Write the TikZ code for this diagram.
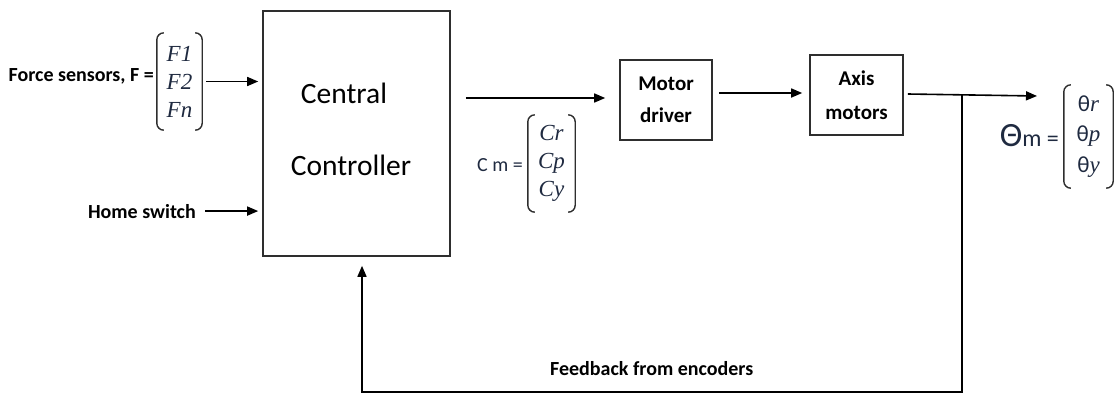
\documentclass[tikz,border=0pt]{standalone}
\usepackage{fontspec}
\usetikzlibrary{arrows.meta}
\setmainfont{Carlito}
\newfontfamily\entryfont{Liberation Serif}
\definecolor{InkNavy}{HTML}{1F2A40}
\definecolor{BoxGray}{HTML}{2E2E2E}

\tikzset{
    block/.style={draw=BoxGray, line width=1.6pt},
    flow/.style={-{Triangle[length=11pt,width=9pt]}, line width=1.6pt},
    lbl/.style={font=\bfseries\fontsize{20}{22}\selectfont},
    vec/.style={font=\fontsize{23}{28}\selectfont, text=InkNavy, align=center, inner sep=0pt},
    bracket/.style={draw=BoxGray, line width=1.4pt, rounded corners=7pt}
}

\begin{document}
\begin{tikzpicture}[x=1pt, y=-1pt]
    \useasboundingbox (0,0) rectangle (1115,394);

    % blocks
    \node[block, minimum width=187pt, minimum height=245pt] (ctrl) at (356.5,133.5) {};
    \node[font=\fontsize{29.5}{29}\selectfont, anchor=base] (central) at (344,103) {Central};
    \node[font=\fontsize{29.5}{29}\selectfont, anchor=base] (controller) at (351,175) {Controller};
    \node[block, minimum width=92pt, minimum height=80pt, align=center,
          font=\bfseries\fontsize{21}{32}\selectfont] (driver) at (666,100) {Motor\\driver};
    \node[block, minimum width=93pt, minimum height=80pt, align=center,
          font=\bfseries\fontsize{21}{34}\selectfont] (axis) at (856.5,95) {Axis\\motors};

    % vectors
    \node[vec, minimum width=45pt, minimum height=97pt] (fvec) at (179.5,81.5)
        {\entryfont\itshape F1\\\entryfont\itshape F2\\\entryfont\itshape Fn};
    \node[vec, minimum width=47pt, minimum height=97pt] (cvec) at (551.5,163.5)
        {\entryfont\itshape Cr\\\entryfont\itshape Cp\\\entryfont\itshape Cy};
    \node[vec, minimum width=49pt, minimum height=103pt, font=\fontsize{23}{30.5}\selectfont] (tvec) at (1088.5,136.5)
        {θ{\entryfont\itshape r}\\θ{\entryfont\itshape p}\\θ{\entryfont\itshape y}};
    \foreach \v in {fvec,cvec,tvec} {
        \draw[bracket] ([xshift=7pt]\v.north west) -- (\v.north west) -- (\v.south west) -- ([xshift=7pt]\v.south west);
        \draw[bracket] ([xshift=-7pt]\v.north east) -- (\v.north east) -- (\v.south east) -- ([xshift=-7pt]\v.south east);
    }

    % labels
    \node[lbl, anchor=base east, inner sep=0pt] (force) at (154,81) {Force sensors, F =};
    \node[lbl, anchor=base east, inner sep=0pt] (home) at (196,218) {Home switch};
    \node[anchor=east, inner sep=0pt, text=InkNavy, font=\fontsize{20}{22}\selectfont] (cm) at (523,165) {C m =};
    \node[anchor=east, inner sep=0pt, text=InkNavy] (thm) at (1059,136)
        {{\fontsize{34}{34}\selectfont Θ}{\fontsize{24}{24}\selectfont m =}};
    \node[lbl, anchor=base west, inner sep=0pt] (fblabel) at (550,375) {Feedback from encoders};

    % connectors
    \coordinate (outtip) at (1037,96);
    \coordinate (tap) at (962,95.4);
    \coordinate (fbturn) at (362,392);
    \draw[flow] ([xshift=4pt]fvec.east) -- ([xshift=-4pt]ctrl.west |- fvec.east);
    \draw[flow] ([xshift=9pt]home.east) -- ([xshift=-4pt]ctrl.west |- home.east);
    \draw[flow] ([xshift=15pt]ctrl.east |- 0,98) -- ([xshift=-14pt]driver.west |- 0,98);
    \draw[flow] ([xshift=6pt]driver.east |- 0,93) -- ([xshift=-7pt]axis.west |- 0,93);
    \draw[flow] ([xshift=4pt]axis.east |- 0,94) -- (outtip);
    \draw[flow, shorten >=9pt] (tap) |- (fbturn) -- (fbturn |- ctrl.south);
\end{tikzpicture}
\end{document}
